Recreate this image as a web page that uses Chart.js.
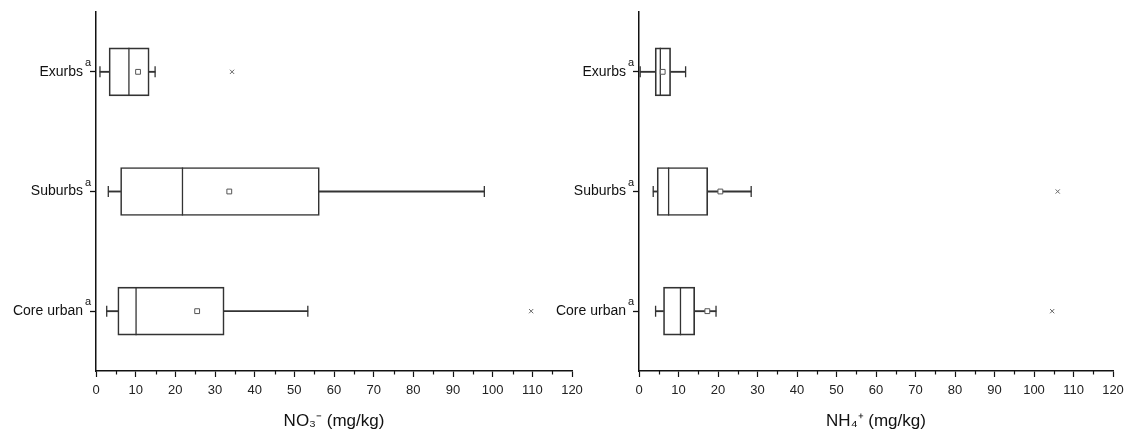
<!DOCTYPE html>
<html>
<head>
<meta charset="utf-8">
<script src="https://cdn.jsdelivr.net/npm/chart.js@4.4.1/dist/chart.umd.min.js"></script>
<style>
  html, body { margin: 0; padding: 0; background: #ffffff; }
  body { width: 1128px; height: 432px; position: relative; overflow: hidden; }
  #c1 { position: absolute; left: 0; top: 0; }
  #c2 { position: absolute; left: 548px; top: 0; }
</style>
</head>
<body>
<canvas id="c1" width="590" height="432"></canvas>
<canvas id="c2" width="580" height="432"></canvas>
<script>
// ---- data ----
const categories = ['Exurbs', 'Suburbs', 'Core urban'];
const categorySuperscript = 'a';

const no3Min    = [1.0, 3.1, 2.7];
const no3Q1     = [3.3, 6.2, 5.5];
const no3Median = [8.3, 21.8, 10.1];
const no3Q3     = [13.4, 56.3, 32.3];
const no3Max    = [14.9, 97.9, 53.4];
const no3Mean   = [10.6, 33.6, 25.5];
const no3Outliers = [[34.3], [], [109.7]];

const nh4Min    = [0.3, 3.6, 4.2];
const nh4Q1     = [4.1, 4.6, 6.2];
const nh4Median = [5.4, 7.5, 10.5];
const nh4Q3     = [8.0, 17.4, 14.1];
const nh4Max    = [11.8, 28.4, 19.5];
const nh4Mean   = [6.0, 20.6, 17.3];
const nh4Outliers = [[], [106.0], [104.6]];

const xTickMin = 0, xTickMax = 120, xTickStep = 10, xMinorStep = 5;
const no3Title = 'NO₃⁻ (mg/kg)';
const nh4Title = 'NH₄⁺ (mg/kg)';

// ---- helpers ----
const INK = '#333333';
const FONT = "'Liberation Sans', Arial, sans-serif";
const Y_TICK_LEN = 6, Y_LABEL_PAD = 7;

const extras = {
  id: 'extras',
  afterDraw(chart) {
    const xs = chart.scales.x, ys = chart.scales.y, ctx = chart.ctx;
    const b = chart.chartArea.bottom, l = chart.chartArea.left;
    ctx.save();
    // minor ticks
    ctx.strokeStyle = '#111';
    ctx.lineWidth = 1.2;
    for (let v = xTickMin + xMinorStep; v < xTickMax; v += xTickStep) {
      const px = Math.round(xs.getPixelForValue(v)) + 0.5;
      ctx.beginPath();
      ctx.moveTo(px, b);
      ctx.lineTo(px, b + 3.5);
      ctx.stroke();
    }
    // superscripts on category labels
    ctx.fillStyle = '#111';
    ctx.font = '11px ' + FONT;
    ctx.textAlign = 'left';
    ctx.textBaseline = 'middle';
    categories.forEach((c, i) => {
      const py = ys.getPixelForValue(i);
      ctx.fillText(categorySuperscript, l - Y_TICK_LEN - Y_LABEL_PAD + 2, py - 9);
    });
    ctx.restore();
  }
};

function pts(vals) {
  return vals.map((v, i) => ({ x: v, y: categories[i] }));
}
function outlierPts(list) {
  const out = [];
  list.forEach((arr, i) => arr.forEach(v => out.push({ x: v, y: categories[i] })));
  return out;
}
function pointSet(label, data, style, radius, rotation, fill, border, bw) {
  return {
    type: 'line', label, indexAxis: 'y', data, showLine: false,
    pointStyle: style, pointRadius: radius, pointHoverRadius: radius,
    pointRotation: rotation, pointBackgroundColor: fill,
    pointBorderColor: border, pointBorderWidth: bw
  };
}

function makeChart(id, mn, q1, med, q3, mx, mean, outl, title, yWidth, padRight, padTop) {
  const whLow = mn.map((v, i) => [v, q1[i]]);
  const whHigh = q3.map((v, i) => [v, mx[i]]);
  const box = q1.map((v, i) => [v, q3[i]]);
  return new Chart(document.getElementById(id), {
    type: 'bar',
    data: {
      labels: categories,
      datasets: [
        pointSet('Mean', pts(mean), 'rect', 3.4, 0, '#ffffff', '#555', 1),
        pointSet('Median', pts(med), 'line', 24, 90, INK, INK, 1.3),
        pointSet('Min', pts(mn), 'line', 5.5, 90, INK, INK, 1.3),
        pointSet('Max', pts(mx), 'line', 5.5, 90, INK, INK, 1.3),
        pointSet('Outliers', outlierPts(outl), 'crossRot', 3, 0, '#666', '#666', 1),
        { label: 'Box', data: box, grouped: false, barThickness: 48,
          backgroundColor: 'rgba(255,255,255,0)', borderColor: INK,
          borderWidth: 1, borderSkipped: false },
        { label: 'Whisker low', data: whLow, grouped: false, barThickness: 1.2,
          backgroundColor: INK, borderWidth: 0 },
        { label: 'Whisker high', data: whHigh, grouped: false, barThickness: 1.2,
          backgroundColor: INK, borderWidth: 0 }
      ]
    },
    options: {
      indexAxis: 'y',
      responsive: false,
      animation: false,
      layout: { autoPadding: false, padding: { top: padTop, right: padRight, bottom: 0, left: 0 } },
      plugins: { legend: { display: false }, tooltip: { enabled: false } },
      scales: {
        x: {
          type: 'linear', min: xTickMin, max: xTickMax,
          ticks: { stepSize: xTickStep, color: '#222', font: { family: FONT, size: 13 }, padding: 6, maxRotation: 0 },
          grid: { display: true, drawOnChartArea: false, drawTicks: true, tickLength: 6, color: '#111', tickWidth: 1.2 },
          border: { display: true, color: '#111', width: 1.5 },
          title: { display: true, text: title, color: '#111', font: { family: FONT, size: 17 }, padding: { top: 0, bottom: 0 } },
          afterFit(s) { s.height = 61; s.paddingLeft = 0; s.paddingRight = 0; }
        },
        y: {
          type: 'category', offset: true,
          ticks: { color: '#111', font: { family: FONT, size: 14 }, padding: Y_LABEL_PAD },
          grid: { display: true, drawOnChartArea: false, drawTicks: true, tickLength: Y_TICK_LEN, color: '#111', tickWidth: 1.3, offset: false },
          border: { display: true, color: '#111', width: 1.5 },
          afterFit(s) { s.width = yWidth; s.paddingTop = 0; s.paddingBottom = 0; }
        }
      }
    },
    plugins: [extras]
  });
}

makeChart('c1', no3Min, no3Q1, no3Median, no3Q3, no3Max, no3Mean, no3Outliers, no3Title, 96, 18, 12);
makeChart('c2', nh4Min, nh4Q1, nh4Median, nh4Q3, nh4Max, nh4Mean, nh4Outliers, nh4Title, 91, 15, 12);
</script>
</body>
</html>
